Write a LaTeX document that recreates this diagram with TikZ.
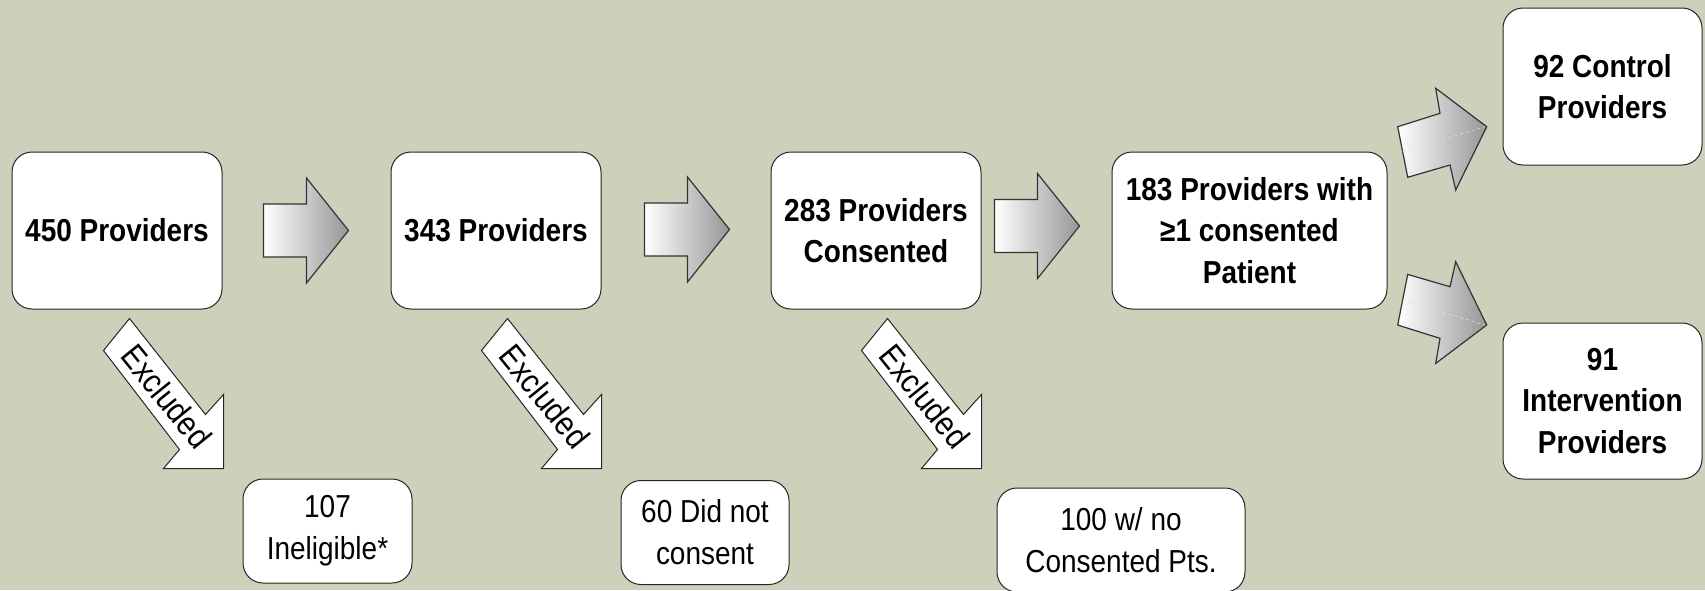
\documentclass[tikz,border=0pt]{standalone}
\usepackage{fontspec}
\setmainfont[FakeStretch=0.88]{Liberation Sans}
\usetikzlibrary{positioning}
\definecolor{sage}{RGB}{204,209,187}
\definecolor{arrowgray}{RGB}{150,150,150}
\definecolor{faintline}{RGB}{228,226,205}
\tikzset{
  grayarrow/.pic={
    \shade[left color=white, right color=arrowgray, draw=black!80, line width=1.2pt]
    (0,-26.5) -- (43,-26.5) -- (43,-52.5) -- (85,0) -- (43,52.5) -- (43,26.5) -- (0,26.5) -- cycle;
  },
  diagarrow/.pic={
    \shade[left color=white, right color=arrowgray, draw=black!80, line width=1.2pt]
    (-89,0) -- (-46.7,-13.4) -- (-51,-38.4) -- (0,0) -- (-31,63.3) -- (-36.7,38.3) -- (-79,50.6) -- cycle;
    \draw[faintline, dashed, line width=0.6pt] (-84,25) -- (-2,0);
  },
  exclarrow/.pic={
    \draw[fill=white, draw=black!85, line width=1pt]
    (-94,-150) -- (-18,-54) -- (0,-74) -- (0,0) -- (-60,0) -- (-44,-19) -- (-120,-118) -- cycle;
    \node[rotate=-51, font=\fontsize{33.5}{34}\selectfont] (-label) at (-57,-72) {Excluded};
  }
}
\begin{document}
\begin{tikzpicture}[x=1pt, y=-1pt,
    box/.style={draw=black!85, line width=1pt, fill=white, rounded corners=20pt,
      align=center, minimum width=210pt, minimum height=157pt,
      font=\fontsize{31.8}{41.5}\selectfont\bfseries},
    outbox/.style={draw=black!85, line width=1pt, fill=white, rounded corners=20pt,
      align=center, minimum height=104pt, font=\fontsize{31.8}{42}\selectfont}]

	\fill[sage] (0,0) rectangle (1705,590);
	\useasboundingbox (0,0) rectangle (1705,590);

	% main chain
	\node[box] (p450) at (117,230.5) {450 Providers};
	\node[box, right=168pt of p450] (p343) {343 Providers};
	\node[box, right=169pt of p343] (p283) {283 Providers\\Consented};
	\node[box, minimum width=275pt, right=130pt of p283] (p183) {183 Providers with\\≥1 consented\\Patient};
	\node[box, minimum width=199pt] (ctrl) at (1602.5,86.5) {92 Control\\Providers};
	\node[box, minimum width=199pt, minimum height=156pt] (intv) at (1602.5,401) {91\\Intervention\\Providers};

	% excluded
	\node[outbox, minimum width=169pt] (inel) at (327.5,531) {107\\Ineligible*};
	\node[outbox, minimum width=168pt] (nocons) at (705,532.5) {60 Did not\\consent};
	\node[outbox, minimum width=248pt] (nopts) at (1121,540) {100 w/ no\\Consented Pts.};

	\path (p450.east) ++(41,0) pic {grayarrow};
	\path (p343.east) ++(43,-1) pic {grayarrow};
	\path (p283.east) ++(13,-4.5) pic {grayarrow};
	\pic at (1486.7,126.7) {diagarrow};
	\pic[yscale=-1] at (1486.7,325) {diagarrow};

	\path (p450.south east) ++(1,159) pic (ex1) {exclarrow};
	\path (p343.south east) ++(0,159) pic (ex2) {exclarrow};
	\path (p283.south east) ++(0,159) pic (ex3) {exclarrow};
\end{tikzpicture}
\end{document}
